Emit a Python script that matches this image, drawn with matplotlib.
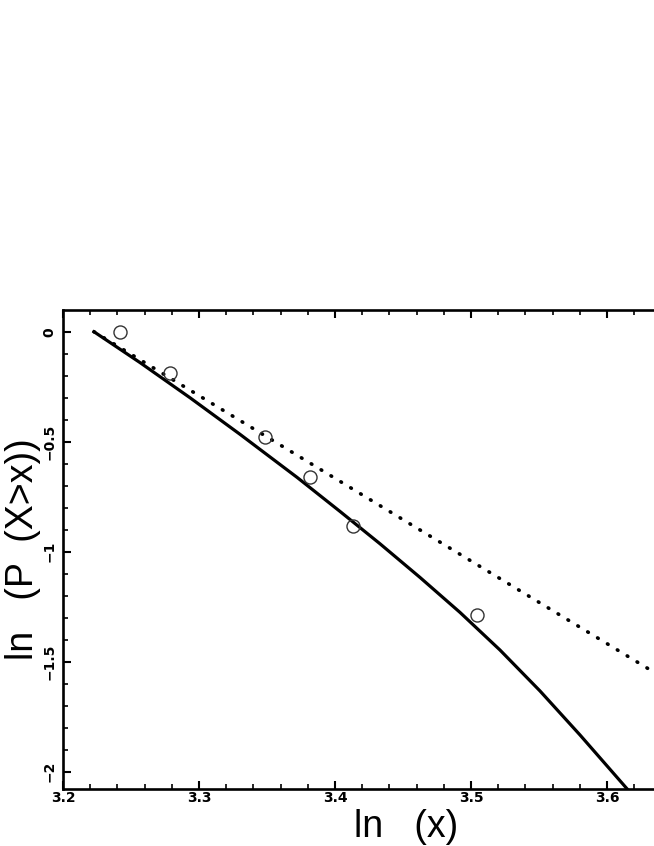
import matplotlib
matplotlib.use('Agg')
import matplotlib.pyplot as plt
from matplotlib.ticker import MultipleLocator

# observed points (open circles)
obs_x = [3.2419, 3.2787, 3.3485, 3.3816, 3.4135, 3.5046]
obs_y = [0.0, -0.189, -0.477, -0.662, -0.883, -1.288]

# solid curve
fit_x = [3.2228, 3.2566, 3.2934, 3.3301, 3.3721, 3.4037, 3.4331,
         3.4625, 3.4919, 3.5213, 3.5507, 3.5801, 3.6150]
fit_y = [0.0, -0.140, -0.300, -0.466, -0.662, -0.817, -0.964,
         -1.117, -1.276, -1.447, -1.633, -1.833, -2.080]

# dotted straight line
lin_x = [3.2228, 3.70]
lin_y = [0.0, -1.794]

xticks = [3.2, 3.3, 3.4, 3.5, 3.6]
xtick_labels = ['3.2', '3.3', '3.4', '3.5', '3.6']
yticks = [0, -0.5, -1, -1.5, -2]
ytick_labels = ['0', '\u22120.5', '\u22121', '\u22121.5', '\u22122']

W, H = 654, 846
fig = plt.figure(figsize=(W / 100, H / 100), dpi=100)
ax = fig.add_axes([63 / W, 57 / H, 680 / W, 479 / H])

ax.plot(fit_x, fit_y, color='black', lw=2.3, solid_joinstyle='round')
ax.plot(lin_x, lin_y, color='black', lw=2.6, linestyle=(0, (0.2, 3.0)),
        dash_capstyle='round')
ax.plot(obs_x, obs_y, 'o', ms=9.4, mfc='none', mec='#333333', mew=1.0)

ax.set_xlim(3.2, 3.7)
ax.set_ylim(-2.079, 0.099)

ax.set_xticks(xticks, xtick_labels, fontsize=10, fontweight='bold')
ax.set_yticks(yticks, ytick_labels, fontsize=10, fontweight='bold',
              rotation=90, va='center')
ax.xaxis.set_minor_locator(MultipleLocator(0.02))
ax.yaxis.set_minor_locator(MultipleLocator(0.1))

ax.tick_params(which='both', direction='in', top=True, right=True)
ax.tick_params(which='major', length=5.8, width=1.5)
ax.tick_params(which='minor', length=3.6, width=1.2)
ax.tick_params(axis='x', pad=1.5)
ax.tick_params(axis='y', pad=5)

for s in ax.spines.values():
    s.set_linewidth(1.9)

ax.set_xlabel('ln   (x)', fontsize=27, family='Liberation Sans')
ax.xaxis.label.set_va('baseline')
ax.xaxis.set_label_coords(0.505, -(837 - 789) / 479)

ax.set_ylabel('ln   (P  (X>x))', fontsize=27, family='Liberation Sans')
ax.yaxis.label.set_va('baseline')
ax.yaxis.set_label_coords((33 - 63) / 680, 0.5)

fig.savefig('out.png', dpi=100)
